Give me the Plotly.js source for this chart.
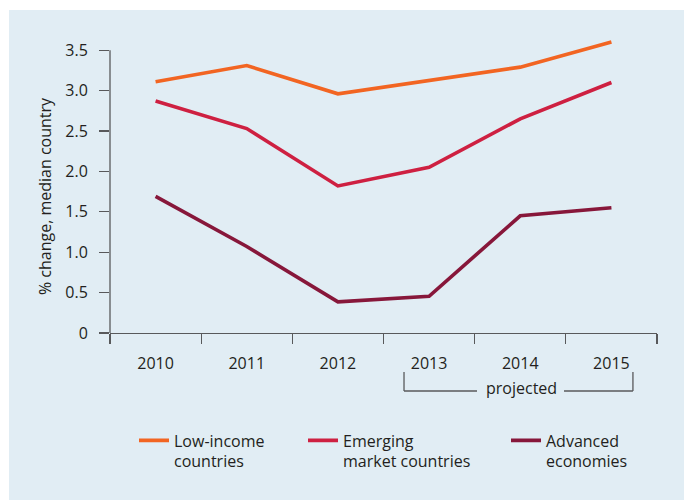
<!DOCTYPE html>
<html>
<head>
<meta charset="utf-8">
<script src="https://cdn.plot.ly/plotly-3.0.1.min.js"></script>
<style>
  html, body { margin: 0; padding: 0; background: #ffffff; }
  #wrap { position: relative; width: 684px; height: 500px; }
  #panel { position: absolute; left: 9px; top: 10px; width: 675px; height: 490px; background: #E1EDF4; }
  #chart { position: absolute; left: 0; top: 0; width: 684px; height: 500px; }
</style>
</head>
<body>
<div id="wrap"><div id="panel"></div><div id="chart"></div></div>
<script>
const years = ['2010', '2011', '2012', '2013', '2014', '2015'];
const lowIncome = [3.11, 3.31, 2.96, 3.12, 3.29, 3.60];
const emerging = [2.87, 2.53, 1.82, 2.05, 2.65, 3.10];
const advanced = [1.69, 1.07, 0.385, 0.455, 1.45, 1.55];
const yTickVals = [0, 0.5, 1.0, 1.5, 2.0, 2.5, 3.0, 3.5];
const yTickText = ['0', '0.5', '1.0', '1.5', '2.0', '2.5', '3.0', '3.5'];
const seriesNames = ['Low-income<br>countries', 'Emerging<br>market countries', 'Advanced<br>economies'];
const yTitle = '% change, median country';
const projectedLabel = 'projected';

const FONT = 'Open Sans, Noto Sans, sans-serif';
const TXT = '#231F20';
const AX = '#58595B';
const colors = ['#F26522', '#CE2041', '#87173A'];

const traces = [lowIncome, emerging, advanced].map((vals, i) => ({
  type: 'scatter', mode: 'lines', x: years, y: vals, name: seriesNames[i],
  line: { color: colors[i], width: 3.6 },
  legend: i === 0 ? 'legend' : 'legend' + (i + 1),
  hoverinfo: 'skip'
}));

const legendBase = {
  orientation: 'v', bgcolor: 'rgba(0,0,0,0)', borderwidth: 0,
  font: { family: FONT, size: 16, color: TXT },
  xref: 'container', yref: 'container', xanchor: 'left', yanchor: 'top',
  valign: 'top', y: 0.153
};

const layout = {
  width: 684, height: 500,
  margin: { l: 110, r: 27, t: 34, b: 167, autoexpand: false },
  paper_bgcolor: 'rgba(0,0,0,0)', plot_bgcolor: 'rgba(0,0,0,0)',
  font: { family: FONT, size: 16, color: TXT },
  showlegend: true,
  legend: Object.assign({}, legendBase, { x: 134 / 684 }),
  legend2: Object.assign({}, legendBase, { x: 303 / 684 }),
  legend3: Object.assign({}, legendBase, { x: 506 / 684 }),
  xaxis: {
    type: 'category', range: [-0.5, 5.5], tickson: 'boundaries',
    ticks: 'outside', ticklen: 10, tickwidth: 1.3, tickcolor: AX,
    showline: true, linecolor: AX, linewidth: 1.3,
    showgrid: false, zeroline: false, fixedrange: true, automargin: false,
    tickfont: { family: FONT, size: 16, color: TXT }, ticklabelstandoff: 15
  },
  yaxis: {
    range: [0, 3.7], tickvals: yTickVals, ticktext: yTickText,
    ticks: 'outside', ticklen: 10, tickwidth: 1.3, tickcolor: AX,
    showline: false, showgrid: false, zeroline: false, fixedrange: true, automargin: false,
    tickfont: { family: FONT, size: 16, color: TXT }, ticklabelstandoff: 8
  },
  shapes: [
    { type: 'line', xref: 'paper', yref: 'y', x0: 0, x1: 0, y0: 0, y1: 3.5, line: { color: AX, width: 1.3 } },
    { type: 'line', xref: 'paper', yref: 'paper', x0: 0.5375, x1: 0.5375, y0: -0.1304, y1: -0.194, line: { color: AX, width: 1.3 } },
    { type: 'line', xref: 'paper', yref: 'paper', x0: 0.5375, x1: 0.671, y0: -0.194, y1: -0.194, line: { color: AX, width: 1.3 } },
    { type: 'line', xref: 'paper', yref: 'paper', x0: 0.830, x1: 0.956, y0: -0.194, y1: -0.194, line: { color: AX, width: 1.3 } },
    { type: 'line', xref: 'paper', yref: 'paper', x0: 0.956, x1: 0.956, y0: -0.1304, y1: -0.194, line: { color: AX, width: 1.3 } }
  ],
  annotations: [
    { text: projectedLabel, xref: 'paper', yref: 'paper', x: 0.753, y: -0.184, showarrow: false,
      xanchor: 'center', yanchor: 'middle', font: { family: FONT, size: 16, color: TXT } },
    { text: yTitle, xref: 'paper', yref: 'paper', x: -0.1188, y: 0.458, showarrow: false, textangle: -90,
      xanchor: 'center', yanchor: 'middle', font: { family: FONT, size: 16, color: TXT } }
  ]
};

Plotly.newPlot('chart', traces, layout, { displayModeBar: false, staticPlot: true });
</script>
</body>
</html>
